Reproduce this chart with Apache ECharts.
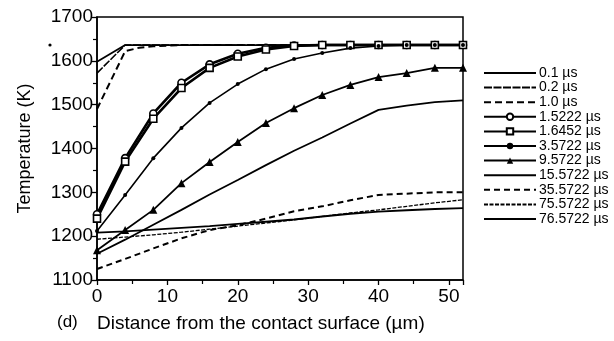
<!DOCTYPE html>
<html><head><meta charset="utf-8">
<script src="https://cdn.jsdelivr.net/npm/echarts@6/dist/echarts.min.js"></script>
<style>html,body{margin:0;padding:0;background:#fff}#c{width:614px;height:341px}</style>
</head><body><div id="c"></div>
<script>
// distances (µm)
const dist = [0,4,8,12,16,20,24,28,32,36,40,44,48,52];
const distShort01 = [0,4,52];
const distShort10 = [0,4,6,8,12,52];
// temperatures (K)
const t0_1 = [1598,1636,1636];
const t0_2 = [1572,1636,1636];
const t1_0 = [1490,1622,1630,1633,1636,1636];
const t1_5222 = [1250,1378,1480,1550,1592,1616,1630,1635,1636,1636,1636,1636,1636,1636];
const t1_6452 = [1240,1370,1468,1538,1584,1610,1626,1634,1636,1636,1636,1636,1636,1636];
const t3_5722 = [1212,1294,1378,1447,1504,1547,1581,1604,1618,1629,1634,1636,1636,1636];
const t9_5722 = [1168,1214,1260,1321,1369,1415,1458,1492,1522,1545,1563,1572,1584,1584];
const t15_5722 = [1160,1192,1226,1260,1295,1328,1362,1395,1425,1457,1488,1498,1506,1510];
const t35_5722 = [1125,1148,1172,1195,1214,1225,1240,1257,1268,1282,1294,1297,1300,1300];
const t75_5722 = [1193,1198,1203,1209,1216,1223,1230,1237,1245,1253,1260,1268,1276,1283];
const t76_5722 = [1208,1211,1215,1219,1223,1228,1233,1238,1245,1251,1256,1259,1262,1264];
const seriesNames = ['0.1 µs','0.2 µs','1.0 µs','1.5222 µs','1.6452 µs','3.5722 µs','9.5722 µs','15.5722 µs','35.5722 µs','75.5722 µs','76.5722 µs'];
const noMarker = ['0.1 µs','0.2 µs','1.0 µs','15.5722 µs','35.5722 µs','75.5722 µs','76.5722 µs'];
const yTicks = {min:1100, max:1700, step:100};
const xTicks = {min:0, max:52, step:10};

const pair = (xs, ys) => xs.map((x,i)=>[x, ys[i]]);
const F = 'Liberation Sans, Arial, Helvetica, sans-serif';
const K = '#000';

function mk(name, data, o) {
  return Object.assign({
    name, type:'line', data, symbol:'none', smooth:false,
    lineStyle:{color:K, width:1.8, type:'solid'},
    itemStyle:{color:K, borderColor:K},
    z:3, animation:false
  }, o);
}
const series = [
  mk(seriesNames[0], pair(distShort01,t0_1), {lineStyle:{color:K,width:1.8}}),
  mk(seriesNames[1], pair(distShort01,t0_2), {lineStyle:{color:K,width:1.6,type:[8,1.5]}}),
  mk(seriesNames[2], pair(distShort10,t1_0), {lineStyle:{color:K,width:2,type:[7,4]}}),
  mk(seriesNames[3], pair(dist,t1_5222), {symbol:'circle', symbolSize:7, lineStyle:{color:K,width:2.6}, itemStyle:{color:'#fff',borderColor:K,borderWidth:1.6}}),
  mk(seriesNames[4], pair(dist,t1_6452), {symbol:'rect', symbolSize:7, lineStyle:{color:K,width:2.6}, itemStyle:{color:'#fff',borderColor:K,borderWidth:1.6}}),
  mk(seriesNames[5], pair(dist,t3_5722), {symbol:'circle', symbolSize:4, lineStyle:{color:K,width:1.6}, itemStyle:{color:K}}),
  mk(seriesNames[6], pair(dist,t9_5722), {symbol:'triangle', symbolSize:8, lineStyle:{color:K,width:1.8}, itemStyle:{color:K}}),
  mk(seriesNames[7], pair(dist,t15_5722), {lineStyle:{color:K,width:1.8}}),
  mk(seriesNames[8], pair(dist,t35_5722), {lineStyle:{color:K,width:2,type:[6,4]}}),
  mk(seriesNames[9], pair(dist,t75_5722), {lineStyle:{color:K,width:1.3,type:[4,1.5]}}),
  mk(seriesNames[10], pair(dist,t76_5722), {lineStyle:{color:K,width:1.9}})
];

const legendData = seriesNames.map(n => noMarker.includes(n)
  ? {name:n, itemStyle:{opacity:0}} : {name:n});

const chart = echarts.init(document.getElementById('c'), null, {renderer:'canvas'});
chart.setOption({
  animation:false,
  backgroundColor:'#fff',
  grid:{left:97, right:151, top:17, bottom:61, show:true, borderColor:K, borderWidth:1.5, backgroundColor:'transparent'},
  xAxis:{type:'value', min:xTicks.min, max:xTicks.max, interval:xTicks.step,
    axisLine:{show:true, lineStyle:{color:K, width:1.5}},
    axisTick:{show:true, length:5, inside:false, lineStyle:{color:K,width:1.3}},
    minorTick:{show:true, splitNumber:2, length:4, lineStyle:{color:K,width:1.2}},
    splitLine:{show:false},
    axisLabel:{color:K, fontSize:19, fontFamily:F, margin:7, showMaxLabel:false, formatter:v=>String(v)}
  },
  yAxis:{type:'value', min:yTicks.min, max:yTicks.max, interval:yTicks.step,
    axisLine:{show:true, lineStyle:{color:K, width:1.5}},
    axisTick:{show:true, length:5, inside:false, lineStyle:{color:K,width:1.3}},
    minorTick:{show:true, splitNumber:2, length:4, lineStyle:{color:K,width:1.2}},
    splitLine:{show:false},
    axisLabel:{color:K, fontSize:19, fontFamily:F, margin:4, formatter:v=>String(v)},
    name:'Temperature (K)', nameLocation:'middle', nameGap:63, nameRotate:90,
    nameTextStyle:{color:K, fontSize:18, fontFamily:F}
  },
  legend:{orient:'vertical', left:478, top:61, itemWidth:52, itemHeight:8, itemGap:0.6,
    textStyle:{color:K, fontSize:14, fontFamily:F, padding:[0,0,0,-2]},
    data:legendData, selectedMode:false, inactiveColor:K},
  graphic:[
    {type:'text', left:57, top:314, style:{text:'(d)', fill:K, font:'17px '+F}},
    {type:'text', left:97, top:314, style:{text:'Distance from the contact surface (µm)', fill:K, font:'19px '+F}},
    {type:'circle', shape:{cx:50, cy:45, r:1.6}, style:{fill:K}}
  ],
  series
});
</script></body></html>
